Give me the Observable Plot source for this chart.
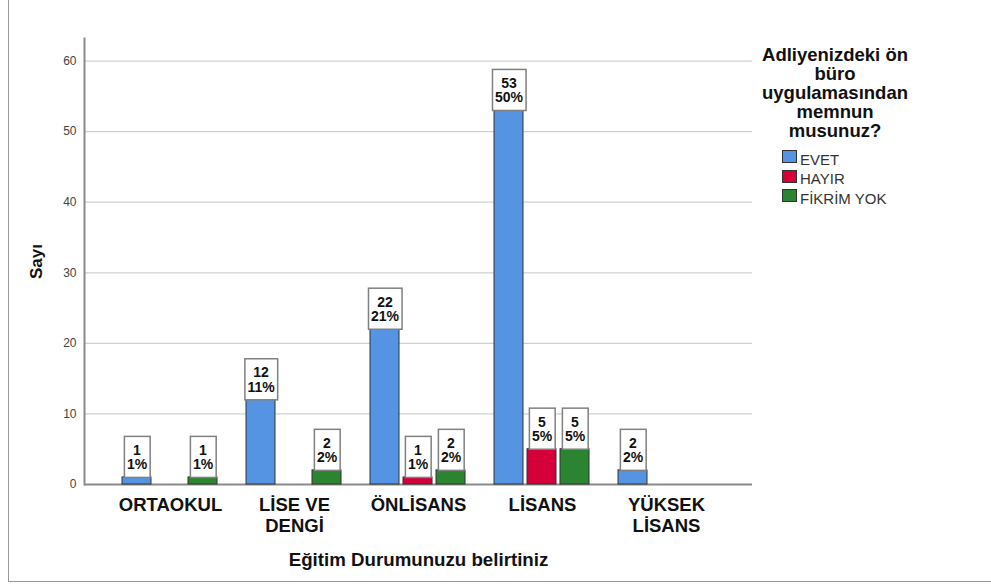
<!DOCTYPE html>
<html>
<head>
<meta charset="utf-8">
<script src="https://cdn.jsdelivr.net/npm/d3@7"></script>
<script src="https://cdn.jsdelivr.net/npm/@observablehq/plot@0.6"></script>
<style>
  body { margin: 0; background: #fff; font-family: "Liberation Sans", Arial, sans-serif; }
  #wrap { position: relative; width: 991px; height: 584px; overflow: hidden; background: #fff; }
  #border { position: absolute; left: 8px; top: -1px; width: 1000px; height: 583px; border: 1.5px solid #999; box-sizing: border-box; }
  .layer { position: absolute; left: 0; top: 0; }
  .ltitle { position: absolute; left: 753px; width: 164px; top: 45px; text-align: center; font-weight: bold; font-size: 18.5px; line-height: 19px; color: #111; }
  .sw { position: absolute; left: 782px; width: 15px; height: 13px; box-sizing: border-box; border: 1px solid #333; }
  .lt { position: absolute; left: 800px; font-size: 15px; line-height: 13px; color: #333; white-space: nowrap; }
</style>
</head>
<body>
<div id="wrap"><div id="border"></div><div id="axes" class="layer"></div><div id="chart" class="layer"></div><div id="legend"></div></div>
<script>
// ---- data ----
const categories = ["ORTAOKUL", "LİSE VE DENGİ", "ÖNLİSANS", "LİSANS", "YÜKSEK LİSANS"];
const categoryLabels = ["ORTAOKUL", "LİSE VE\nDENGİ", "ÖNLİSANS", "LİSANS", "YÜKSEK\nLİSANS"];
const series = ["EVET", "HAYIR", "FİKRİM YOK"];
const seriesColors = ["#5594e3", "#d5003a", "#2b8530"];
const evet = [1, 12, 22, 53, 2];
const hayir = [0, 0, 1, 5, 0];
const fikrimYok = [1, 2, 2, 5, 0];
const evetPct = [1, 11, 21, 50, 2];
const hayirPct = [0, 0, 1, 5, 0];
const fikrimYokPct = [1, 2, 2, 5, 0];
const yTicks = [0, 10, 20, 30, 40, 50, 60];
const yMax = 63.2;
const xTitle = "Eğitim Durumunuzu belirtiniz";
const yTitle = "Sayı";
const legendTitleLines = ["Adliyenizdeki ön", "büro", "uygulamasından", "memnun", "musunuz?"];

// ---- table ----
const seriesValues = [evet, hayir, fikrimYok];
const seriesPcts = [evetPct, hayirPct, fikrimYokPct];
const rows = [];
categories.forEach((c, i) => series.forEach((s, j) => {
  const v = seriesValues[j][i];
  if (v > 0) rows.push({category: c, series: s, value: v, pct: seriesPcts[j][i]});
}));

const common = {
  width: 991,
  height: 584,
  marginLeft: 84,
  marginRight: 239,
  marginTop: 38,
  marginBottom: 100,
  style: {fontFamily: "'Liberation Sans', Arial, sans-serif", background: "transparent", color: "#222"}
};

// layer 1: grid, axis lines, y axis and titles
const axes = Plot.plot({
  ...common,
  y: {domain: [0, yMax], label: null},
  marks: [
    Plot.ruleY(yTicks.filter(d => d > 0), {stroke: "#cfcfcf", strokeWidth: 1.2}),
    Plot.ruleY([0], {stroke: "#8a8a8a", strokeWidth: 2}),
    Plot.frame({anchor: "left", stroke: "#8a8a8a", strokeWidth: 2}),
    Plot.axisY({ticks: yTicks, tickSize: 0, tickPadding: 8, fontSize: 12, fill: "#444", label: null}),
    Plot.text([xTitle], {frameAnchor: "bottom", text: d => d, lineAnchor: "top", dy: 68, fontSize: 18.7, fontWeight: "bold", fill: "#111"}),
    Plot.text([yTitle], {frameAnchor: "left", text: d => d, rotate: -90, textAnchor: "middle", dx: -48, fontSize: 17, fontWeight: "bold", fill: "#111"})
  ]
});
document.getElementById("axes").appendChild(axes);

// layer 2: faceted bars and value labels
const chart = Plot.plot({
  ...common,
  fx: {domain: categories, paddingInner: 0, paddingOuter: 0.18, label: null},
  x: {domain: series, paddingInner: 0.12, paddingOuter: 0.4, axis: null},
  y: {domain: [0, yMax], axis: null},
  color: {domain: series, range: seriesColors},
  marks: [
    Plot.barY(rows, {fx: "category", x: "series", y: "value", fill: "series", stroke: "#333", strokeWidth: 1}),
    Plot.text(rows, {
      fx: "category", x: "series", y: "value",
      text: d => `${d.value}\n${d.pct}%`,
      lineAnchor: "bottom", lineHeight: 1.04, dy: -8,
      fontSize: 14, fontWeight: "bold", fill: "#111"
    }),
    Plot.axisFx({
      anchor: "bottom", tickSize: 0, tickPadding: 12, fontSize: 18.5, lineHeight: 1.13,
      fill: "#111", label: null,
      tickFormat: d => categoryLabels[categories.indexOf(d)]
    })
  ]
});
document.getElementById("chart").appendChild(chart);

// bold fx tick labels
chart.querySelectorAll('g[aria-label="fx-axis tick label"] text').forEach(t => t.setAttribute("font-weight", "bold"));

// boxes behind value labels, sized from the rendered text
chart.querySelectorAll('g[aria-label="text"] text').forEach(t => {
  const bb = t.getBBox();
  const r = document.createElementNS("http://www.w3.org/2000/svg", "rect");
  r.setAttribute("x", bb.x - 2.5);
  r.setAttribute("y", bb.y - 5.5);
  r.setAttribute("width", bb.width + 5);
  r.setAttribute("height", bb.height + 10.5);
  r.setAttribute("fill", "#fff");
  r.setAttribute("stroke", "#808080");
  r.setAttribute("stroke-width", 1.5);
  const tr = t.getAttribute("transform");
  if (tr) r.setAttribute("transform", tr);
  t.parentNode.insertBefore(r, t);
});

// legend
const legend = document.getElementById("legend");
const title = document.createElement("div");
title.className = "ltitle";
title.innerHTML = legendTitleLines.join("<br>");
legend.appendChild(title);
series.forEach((s, i) => {
  const top = 150 + 19.5 * i;
  const sw = document.createElement("div");
  sw.className = "sw";
  sw.style.top = top + "px";
  sw.style.background = seriesColors[i];
  legend.appendChild(sw);
  const lt = document.createElement("div");
  lt.className = "lt";
  lt.style.top = (top + 2.5) + "px";
  lt.textContent = s;
  legend.appendChild(lt);
});
</script>
</body>
</html>
